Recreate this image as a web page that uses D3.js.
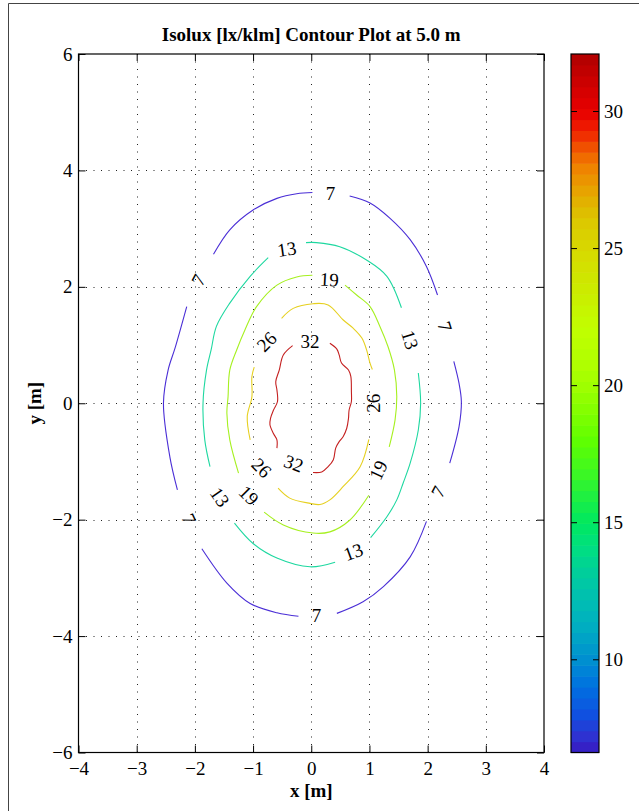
<!DOCTYPE html>
<html><head><meta charset="utf-8">
<script src="https://cdn.jsdelivr.net/npm/d3@7/dist/d3.min.js"></script>
<style>
body{margin:0;background:#fff}
svg{display:block}
text{font-family:"Liberation Serif","Times New Roman",serif;fill:#000}
</style>
</head><body>
<svg id="c" width="639" height="811"></svg>
<script>
// ---------- data ----------
const xTicks = [-4, -3, -2, -1, 0, 1, 2, 3, 4];
const yTicks = [-6, -4, -2, 0, 2, 4, 6];
const cbTicks = [10, 15, 20, 25, 30];
const cbRange = [6.6, 32.08];
const levelValues = [6.6, 12.97, 19.34, 25.71, 32.08];
const levelLabels = ["7", "13", "19", "26", "32"];
const lineColors = ["#4a2ed6", "#1ed8a0", "#a6f020", "#e6d020", "#c42020"];
const cmapStops  = [6.6, 7.15, 8.0, 9.0, 10, 11.3, 12.3, 13.3, 14.1, 15, 16, 16.9, 18, 19, 20, 20.8, 22, 25, 26, 26.5, 27.2, 28, 28.7, 29.3, 30, 32.08];
const cmapColors = ["#3818c0","#3030d0","#1050e0","#0070e0","#0090d0","#00b0c0","#00c0b0","#00d098","#00e080","#00e860","#20f040","#40f820","#60ff00","#80ff00","#a0ff00","#b0ff00","#c0ff00","#d8d800","#dcc800","#e0b800","#e8a000","#f08000","#f05000","#f02000","#e80000","#b00000"];

// contour polylines (x, y in metres), one list of segments per level
const contour7 = [
  [[-1.68,2.56],[-1.40,2.98],[-1.00,3.32],[-0.59,3.52],[-0.25,3.60],[0.02,3.62]],
  [[0.66,3.56],[1.01,3.44],[1.35,3.18],[1.70,2.81],[1.98,2.35],[2.17,1.86]],
  [[2.45,0.72],[2.54,0.34],[2.58,0.03],[2.54,-0.40],[2.38,-1.03]],
  [[1.98,-2.03],[1.70,-2.64],[1.24,-3.15],[0.89,-3.41],[0.44,-3.61]],
  [[-0.22,-3.66],[-0.59,-3.60],[-1.05,-3.44],[-1.45,-3.09],[-1.88,-2.50]],
  [[-2.14,1.66],[-2.34,0.95],[-2.46,0.57],[-2.54,0.00],[-2.43,-0.92],[-2.30,-1.49]]
];
const contour13 = [
  [[-0.74,2.50],[-1.05,2.18],[-1.40,1.72],[-1.63,1.32],[-1.72,0.92],[-1.80,0.57],[-1.86,0.00],[-1.83,-0.63],[-1.74,-1.09]],
  [[-1.32,-2.06],[-1.00,-2.41],[-0.59,-2.66],[-0.02,-2.81],[0.41,-2.73]],
  [[1.02,-2.31],[1.30,-1.95],[1.47,-1.66],[1.58,-1.37],[1.70,-1.03],[1.84,-0.46],[1.88,0.00],[1.84,0.52]],
  [[1.55,1.64],[1.30,2.18],[0.95,2.46],[0.49,2.69],[0.09,2.76],[-0.09,2.76]]
];
const contour19 = [
  [[0.02,2.20],[-0.25,2.17],[-0.59,2.03],[-0.94,1.66],[-1.14,1.26],[-1.28,0.92],[-1.40,0.57],[-1.43,0.11],[-1.45,-0.17],[-1.40,-0.63],[-1.25,-1.20]],
  [[-0.81,-1.87],[-0.48,-2.09],[0.03,-2.23],[0.32,-2.21],[0.66,-2.01],[0.99,-1.58]],
  [[1.34,-0.75],[1.44,-0.29],[1.47,0.11],[1.43,0.57],[1.32,0.97],[1.18,1.32],[1.01,1.66],[0.78,1.86],[0.58,2.03]]
];
const contour26 = [
  [[-0.51,1.46],[-0.31,1.63],[0.03,1.71],[0.29,1.69],[0.55,1.43],[0.72,1.29],[0.87,1.12],[0.95,0.92],[1.01,0.69],[1.05,0.58]],
  [[0.99,-0.62],[0.84,-1.09],[0.55,-1.43],[0.32,-1.66],[0.15,-1.74],[-0.02,-1.72],[-0.37,-1.63],[-0.57,-1.46]],
  [[-0.98,0.62],[-1.02,0.46],[-1.02,0.11],[-1.10,-0.23],[-1.05,-0.63]]
];
const contour32 = [
  [[-0.32,0.99],[-0.48,0.83],[-0.55,0.57],[-0.61,0.37],[-0.59,0.23],[-0.58,0.03],[-0.65,-0.12],[-0.70,-0.26],[-0.71,-0.37],[-0.65,-0.52],[-0.59,-0.63],[-0.59,-0.77]],
  [[0.03,-1.19],[0.18,-1.18],[0.29,-1.09],[0.38,-0.97],[0.42,-0.77],[0.48,-0.66],[0.55,-0.57],[0.61,-0.43],[0.64,-0.26],[0.65,-0.12],[0.69,0.03],[0.69,0.20],[0.68,0.46],[0.64,0.57],[0.52,0.69],[0.48,0.83],[0.44,0.93],[0.32,1.03]]
];
const contours = [contour7, contour13, contour19, contour26, contour32];

// inline contour labels: level index, x, y (metres), rotation (deg)
const labelLevel = [0,0,0,0,0,0, 1,1,1,1, 2,2,2, 3,3,3, 4,4];
const labelX = [0.33,-1.94,2.30,2.18,0.09,-2.10, -0.42,1.70,0.72,-1.57, 0.31,1.15,-1.07, -0.77,1.07,-0.85, -0.02,-0.30];
const labelY = [3.60,2.12,1.32,-1.52,-3.64,-1.99, 2.65,1.09,-2.55,-1.61, 2.13,-1.15,-1.58, 1.06,0.00,-1.11, 1.06,-1.03];
const labelRot = [0,-62,72,-62,0,65, -8,72,-20,55, 3,-65,45, -45,-90,45, 0,20];

// ---------- drawing ----------
const svg = d3.select("#c");
const L = 78.5, R = 544, T = 54, B = 752.5;
const x = d3.scaleLinear().domain([-4, 4]).range([L, R]);
const y = d3.scaleLinear().domain([-6, 6]).range([B, T]);
const cbL = 571, cbR = 599;
const cb = d3.scaleLinear().domain(cbRange).range([B, T]);
const cmap = d3.scaleLinear().domain(cmapStops).range(cmapColors).interpolate(d3.interpolateRgb);

svg.append("rect").attr("width", 639).attr("height", 811).attr("fill", "#fff");
// outer frame
svg.append("path").attr("d", "M8.5,811V3.5H639").attr("fill", "none").attr("stroke", "#444").attr("stroke-width", 1);

// grid
const grid = svg.append("g").attr("stroke", "#222").attr("stroke-width", 1).attr("stroke-dasharray", "1,6.5");
xTicks.slice(1, -1).forEach(v => grid.append("line").attr("x1", Math.round(x(v)) + 0.5).attr("x2", Math.round(x(v)) + 0.5).attr("y1", T).attr("y2", B));
yTicks.slice(1, -1).forEach(v => grid.append("line").attr("y1", Math.round(y(v)) + 0.5).attr("y2", Math.round(y(v)) + 0.5).attr("x1", L).attr("x2", R));

// contours
const line = d3.line().x(d => x(d[0])).y(d => y(d[1])).curve(d3.curveCatmullRom.alpha(0.5));
contours.forEach((segs, i) => {
  svg.append("g").selectAll("path").data(segs).join("path")
    .attr("d", line).attr("fill", "none").attr("stroke", lineColors[i]).attr("stroke-width", 1.1);
});

// contour labels
svg.append("g").selectAll("text").data(labelLevel).join("text")
  .attr("transform", (d, i) => `translate(${x(labelX[i])},${y(labelY[i])}) rotate(${labelRot[i]})`)
  .attr("text-anchor", "middle").attr("dy", "0.35em")
  .style("font-size", "19px")
  .text(d => levelLabels[d]);

// axes
function styleAxis(g) {
  g.select(".domain").remove();
  g.selectAll("line").attr("stroke", "#000");
  g.selectAll("text").style("font-size", "19px").style("font-family", "'Liberation Serif',serif");
}
svg.append("g").attr("transform", `translate(0,${B})`)
  .call(d3.axisBottom(x).tickValues(xTicks).tickSizeInner(-7).tickSizeOuter(0).tickPadding(9)).call(styleAxis);
svg.append("g").attr("transform", `translate(0,${T})`)
  .call(d3.axisTop(x).tickValues(xTicks).tickSizeInner(-7).tickSizeOuter(0).tickFormat("")).call(styleAxis);
svg.append("g").attr("transform", `translate(${L},0)`)
  .call(d3.axisLeft(y).tickValues(yTicks).tickSizeInner(-7).tickSizeOuter(0).tickPadding(6)).call(styleAxis);
svg.append("g").attr("transform", `translate(${R},0)`)
  .call(d3.axisRight(y).tickValues(yTicks).tickSizeInner(-7).tickSizeOuter(0).tickFormat("")).call(styleAxis);
svg.append("rect").attr("x", L).attr("y", T).attr("width", R - L).attr("height", B - T)
  .attr("fill", "none").attr("stroke", "#000").attr("stroke-width", 1.2);

// colorbar
const nBands = 64;
const step = (cbRange[1] - cbRange[0]) / nBands;
const bands = d3.range(nBands).map(i => cbRange[0] + i * step);
svg.append("g").selectAll("rect").data(bands).join("rect")
  .attr("x", cbL).attr("width", cbR - cbL)
  .attr("y", d => cb(d + step)).attr("height", d => cb(d) - cb(d + step) + 0.6)
  .attr("fill", d => cmap(d + step / 2));
svg.append("g").attr("transform", `translate(${cbR},0)`)
  .call(d3.axisRight(cb).tickValues(cbTicks).tickSizeInner(-6).tickSizeOuter(0).tickPadding(5)).call(styleAxis);
svg.append("g").attr("transform", `translate(${cbL},0)`)
  .call(d3.axisLeft(cb).tickValues(cbTicks).tickSizeInner(-6).tickSizeOuter(0).tickFormat("")).call(styleAxis);
svg.append("rect").attr("x", cbL).attr("y", T).attr("width", cbR - cbL).attr("height", B - T)
  .attr("fill", "none").attr("stroke", "#000").attr("stroke-width", 1.2);

// titles
svg.append("text").attr("x", (L + R) / 2).attr("y", 41).attr("text-anchor", "middle")
  .style("font-size", "19px").style("font-weight", "bold").text("Isolux [lx/klm] Contour Plot at 5.0 m");
svg.append("text").attr("x", (L + R) / 2).attr("y", 797).attr("text-anchor", "middle")
  .style("font-size", "19px").style("font-weight", "bold").text("x [m]");
svg.append("text").attr("transform", `translate(41,${(T + B) / 2}) rotate(-90)`).attr("text-anchor", "middle")
  .style("font-size", "19px").style("font-weight", "bold").text("y [m]");
</script>
</body></html>
